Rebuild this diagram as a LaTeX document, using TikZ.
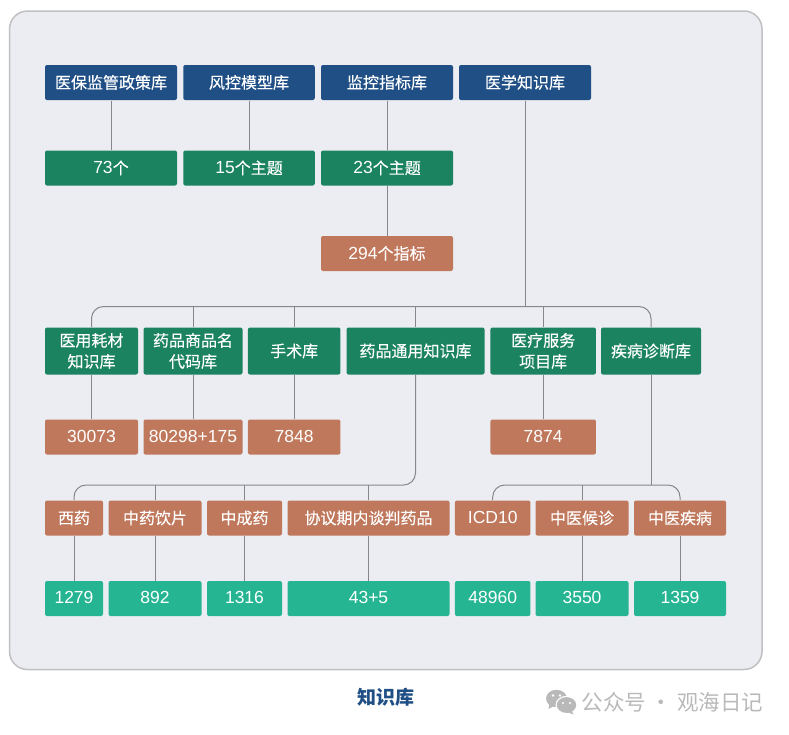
\documentclass[tikz,border=0pt]{standalone}
\usepackage{fontspec}
\setmainfont{Liberation Sans}
\newfontfamily\cjk{Noto Sans CJK SC}
\newfontfamily\cjkmed[FakeBold=0.25]{Noto Sans CJK SC}
\newcommand{\hz}[1]{{\cjkmed\fontsize{16}{21}\selectfont #1}}
\definecolor{myCard}{HTML}{ecedf2}
\definecolor{myEdge}{HTML}{c0c0c2}
\definecolor{myBlue}{HTML}{1f4f85}
\definecolor{myGreen}{HTML}{1b8360}
\definecolor{myBrown}{HTML}{c0785c}
\definecolor{myTeal}{HTML}{25b592}
\definecolor{myLine}{HTML}{87878b}
\definecolor{myMark}{HTML}{b9b9b9}

\begin{document}
\begin{tikzpicture}[x=1pt, y=-1pt, line width=1pt, myLine]

  \tikzstyle{N}=[rectangle,rounded corners=2pt,text=white,inner sep=0pt,text depth=1.5pt,align=center,font=\fontsize{17.5}{21}\selectfont]
  \tikzstyle{K}=[N,fill=myBlue,minimum height=35pt]
  \tikzstyle{G}=[N,fill=myGreen,minimum height=35pt]
  \tikzstyle{H}=[N,fill=myGreen,minimum height=47pt]
  \tikzstyle{O}=[N,fill=myBrown,minimum height=35pt]
  \tikzstyle{T}=[N,fill=myTeal,minimum height=35pt]
  \tikzstyle{R}=[rounded corners=12pt]

  \useasboundingbox (0,0) rectangle (789,734);
  \draw[myEdge, fill=myCard, line width=1.5pt, rounded corners=18pt] (9.5,11) rectangle (762,669.5);

  \node[K, minimum width=132pt] at (111,82.5) (yibao) {\hz{医保监管政策库}};
  \node[K, minimum width=131.5pt] at (249,82.5) (fengkong) {\hz{风控模型库}};
  \node[K, minimum width=132pt] at (387,82.5) (jiankong) {\hz{监控指标库}};
  \node[K, minimum width=132pt] at (525,82.5) (yixue) {\hz{医学知识库}};

  \node[G, minimum width=132pt] at (111,168) (yibaonum) {73\hz{个}};
  \node[G, minimum width=131.5pt] at (249,168) (fengkongnum) {15\hz{个主题}};
  \node[G, minimum width=132pt] at (387,168) (jiankongnum) {23\hz{个主题}};
  \node[O, minimum width=132pt] at (387,253.5) (zhibiao) {294\hz{个指标}};

  \node[H, minimum width=93pt] at (91.5,351) (haocai) {\hz{医用耗材}\\\hz{知识库}};
  \node[H, minimum width=99pt] at (193,351) (shangpin) {\hz{药品商品名}\\\hz{代码库}};
  \node[H, minimum width=92.5pt] at (294.2,351) (shoushu) {\hz{手术库}};
  \node[H, minimum width=138pt] at (415.5,351) (tongyong) {\hz{药品通用知识库}};
  \node[H, minimum width=105.5pt] at (543.2,351) (fuwu) {\hz{医疗服务}\\\hz{项目库}};
  \node[H, minimum width=100pt] at (651,351) (jibing) {\hz{疾病诊断库}};

  \node[O, minimum width=93pt] at (91.5,437) (haocainum) {30073};
  \node[O, minimum width=99pt] at (193,437) (shangpinnum) {80298+175};
  \node[O, minimum width=92.5pt] at (294.2,437) (shoushunum) {7848};
  \node[O, minimum width=105.5pt] at (543.2,437) (fuwunum) {7874};

  \node[O, minimum width=58pt] at (74,518) (xiyao) {\hz{西药}};
  \node[O, minimum width=93pt] at (155,518) (yinpian) {\hz{中药饮片}};
  \node[O, minimum width=75pt] at (244.5,518) (chengyao) {\hz{中成药}};
  \node[O, minimum width=162pt] at (368.5,518) (tanpan) {\hz{协议期内谈判药品}};
  \node[O, minimum width=75.5pt] at (492.7,518) (icd) {ICD10};
  \node[O, minimum width=93pt] at (582,518) (houzhen) {\hz{中医候诊}};
  \node[O, minimum width=92pt] at (680,518) (jibingzy) {\hz{中医疾病}};

  \node[T, minimum width=58pt] at (74,598.5) (xiyaonum) {1279};
  \node[T, minimum width=93pt] at (155,598.5) (yinpiannum) {892};
  \node[T, minimum width=75pt] at (244.5,598.5) (chengyaonum) {1316};
  \node[T, minimum width=162pt] at (368.5,598.5) (tanpannum) {43+5};
  \node[T, minimum width=75.5pt] at (492.7,598.5) (icdnum) {48960};
  \node[T, minimum width=93pt] at (582,598.5) (houzhennum) {3550};
  \node[T, minimum width=92pt] at (680,598.5) (jibingzynum) {1359};

  \coordinate (bustop) at (525,306.5);
  \coordinate (busleft) at (200,485);
  \coordinate (busright) at (582,485);

  \draw [] (yibao) to (yibaonum);
  \draw [] (fengkong) to (fengkongnum);
  \draw [] (jiankong) to (jiankongnum);
  \draw [] (jiankongnum) to (zhibiao);

  \draw [] (yixue.south) to (bustop);
  \draw [R] (haocai.north) |- (bustop) -| (jibing.north);
  \draw [] (shangpin.north) to (shangpin.north |- bustop);
  \draw [] (shoushu.north) to (shoushu.north |- bustop);
  \draw [] (tongyong.north) to (tongyong.north |- bustop);
  \draw [] (fuwu.north) to (fuwu.north |- bustop);

  \draw [] (haocai) to (haocainum);
  \draw [] (shangpin) to (shangpinnum);
  \draw [] (shoushu) to (shoushunum);
  \draw [] (fuwu) to (fuwunum);

  \draw [R] (xiyao.north) |- (busleft) -| (tongyong.south);
  \draw [] (yinpian.north) to (yinpian.north |- busleft);
  \draw [] (chengyao.north) to (chengyao.north |- busleft);
  \draw [] (tanpan.north) to (tanpan.north |- busleft);

  \draw [R] (icd.north) |- (busright) -| (jibingzy.north);
  \draw [] (houzhen.north) to (houzhen.north |- busright);
  \draw [] (jibing.south) to (jibing.south |- busright);

  \draw [] (xiyao) to (xiyaonum);
  \draw [] (yinpian) to (yinpiannum);
  \draw [] (chengyao) to (chengyaonum);
  \draw [] (tanpan) to (tanpannum);
  \draw [] (houzhen) to (houzhennum);
  \draw [] (jibingzy) to (jibingzynum);

  \node[text=myBlue, font=\cjk\fontsize{19}{21}\selectfont\bfseries] at (386,697) (title) {知识库};
  \node[text=myMark, font=\cjk\fontsize{21.5}{24}\selectfont, anchor=east] at (767,702) (mark) {公众号 · 观海日记};

  % chat icon
  \fill[myMark] (556.5,698.5) ellipse [x radius=10.5, y radius=8.7];
  \fill[myMark] (549.5,703) -- (548.5,709) -- (555,705.5) -- cycle;
  \fill[white] (566.5,705) ellipse [x radius=11, y radius=9.2];
  \fill[myMark] (566.5,705) ellipse [x radius=9.7, y radius=7.9];
  \fill[myMark] (571.5,710) -- (573.5,714.5) -- (566,711.5) -- cycle;
  \fill[white] (553,695.5) circle (1.4) (560,695.5) circle (1.4) (563,703) circle (1.2) (570,703) circle (1.2);

\end{tikzpicture}
\end{document}
